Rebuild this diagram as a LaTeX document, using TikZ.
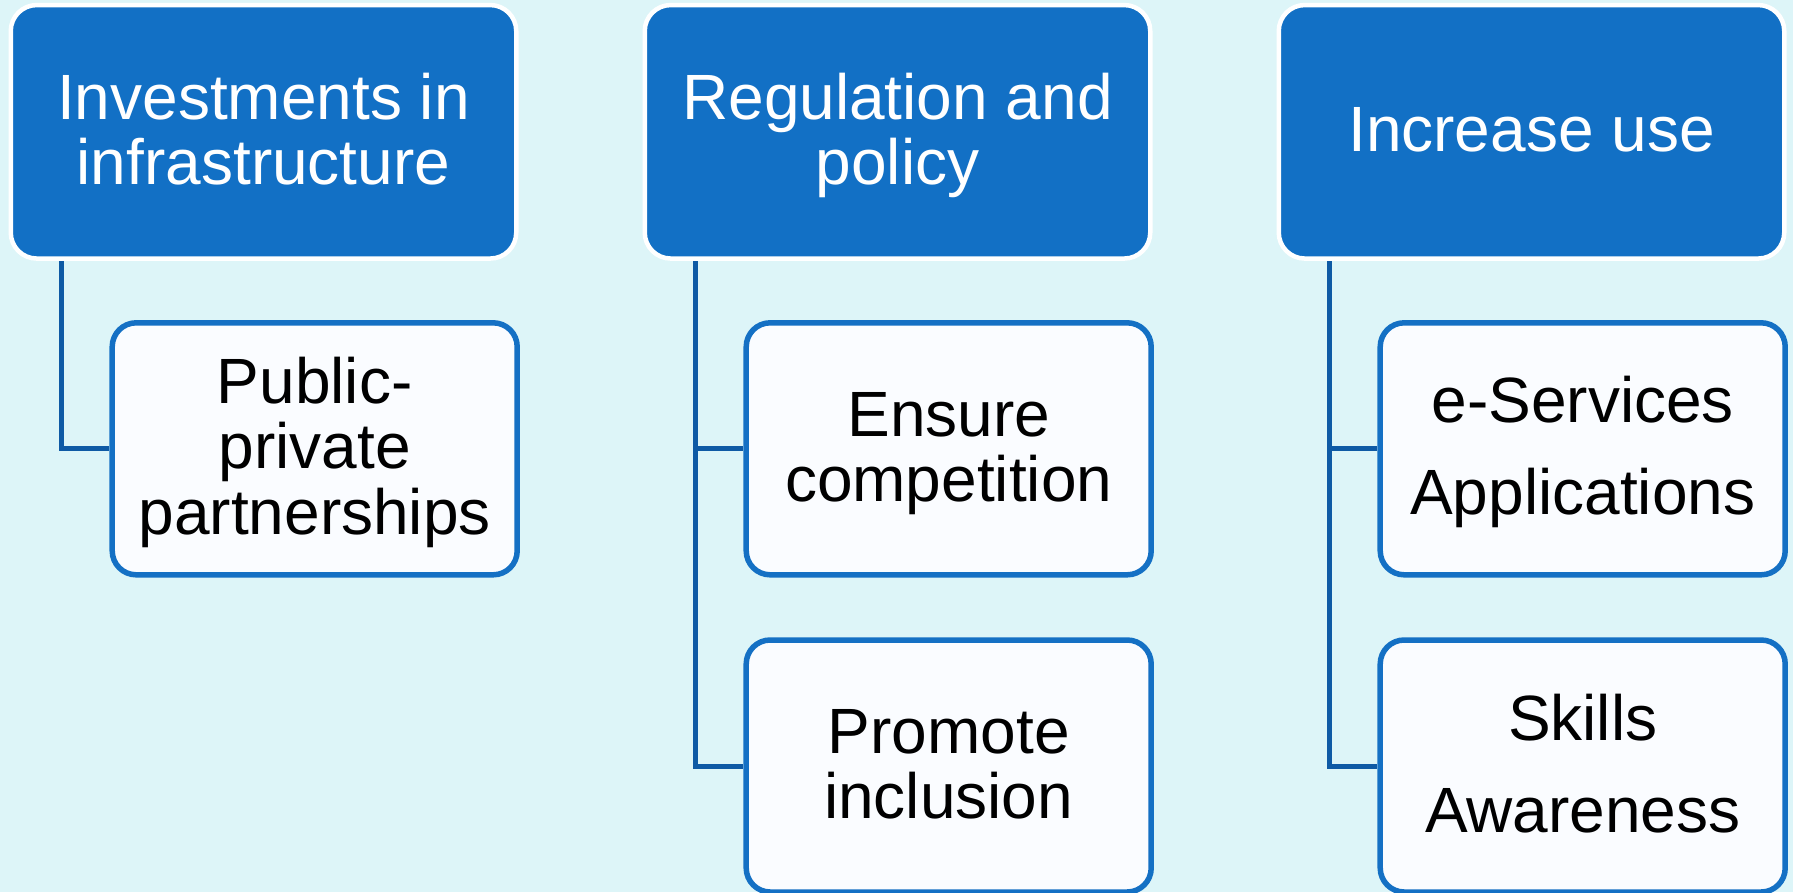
\documentclass[tikz,border=0pt]{standalone}
\usepackage{fontspec}
\setmainfont{Liberation Sans}
\definecolor{bgcyan}{HTML}{DDF5F8}
\definecolor{headblue}{HTML}{1270C5}
\definecolor{boxline}{HTML}{1470C4}
\definecolor{connblue}{HTML}{0E5AA5}
\definecolor{boxfill}{HTML}{FAFCFF}
% fixed first-line height and last-line depth, so text sits as in the reference
\newcommand\lnfirst{\rule{0pt}{60pt}}
\newcommand\lnlast{\rule[-20pt]{0pt}{20pt}}
\begin{document}
\begin{tikzpicture}[x=1pt,y=-1pt,
  headbox/.style={draw=white, line width=4.5pt, fill=headblue, rounded corners=26pt,
    minimum width=505.5pt, minimum height=253.5pt, inner sep=0pt, text=white,
    align=center, font=\fontsize{64}{65}\selectfont},
  childbox/.style={draw=boxline, line width=5.5pt, fill=boxfill, rounded corners=24pt,
    minimum width=405pt, minimum height=252pt, inner sep=0pt, text=black,
    align=center, font=\fontsize{64}{65.5}\selectfont},
  conn/.style={draw=connblue, line width=5pt}]
\fill[bgcyan] (0,0) rectangle (1793,892);
\useasboundingbox (0,0) rectangle (1793,892);
% anchors for connectors
\coordinate (t1) at (61,255);
\coordinate (t2) at (695,255);
\coordinate (t3) at (1329,255);
% children
\node[childbox] (c1) at (314.7,448.8) {\lnfirst Public-\\private\\partnerships\lnlast};
\node[childbox] (c2a) at (948.7,448.8) {\lnfirst Ensure\\competition\lnlast};
\node[childbox] (c2b) at (948.7,766) {\lnfirst Promote\\inclusion\lnlast};
\node[childbox] (c3a) at (1582.7,448.8) {\lnfirst e-Services\\[26.5pt]Applications\lnlast};
\node[childbox] (c3b) at (1582.7,766) {\lnfirst Skills\\[26.5pt]Awareness\lnlast};
% connectors
\draw[conn] (t1) |- (c1.west);
\draw[conn] (t2) |- (c2a.west);
\draw[conn] (t2) |- (c2b.west);
\draw[conn] (t3) |- (c3a.west);
\draw[conn] (t3) |- (c3b.west);
% headers
\node[headbox] (h1) at (263.5,131.8) {\lnfirst Investments in\\infrastructure\lnlast};
\node[headbox] (h2) at (897.5,131.8) {\lnfirst Regulation and\\policy\lnlast};
\node[headbox] (h3) at (1531.5,131.8) {\lnfirst Increase use\lnlast};
\end{tikzpicture}
\end{document}
